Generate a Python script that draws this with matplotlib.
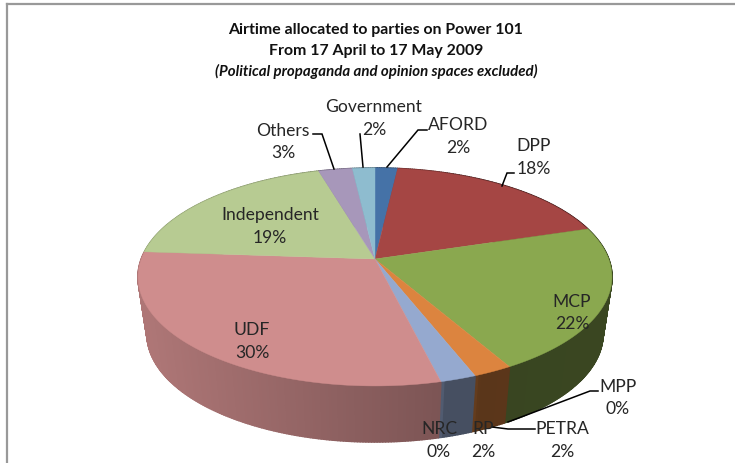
import numpy as np
import matplotlib
matplotlib.use("Agg")
import matplotlib.pyplot as plt
from matplotlib.collections import PolyCollection
from matplotlib.patches import Polygon

parties = ["AFORD", "DPP", "MCP", "MPP", "PETRA", "RP", "NRC", "UDF", "Independent", "Others", "Government"]
shares = [1.8, 18.4, 21.6, 0.0, 2.3, 2.1, 0.0, 29.9, 19.4, 2.7, 1.8]
colors = ["#4572a7", "#a54644", "#8aa84f", "#7d5fa0", "#dc843f", "#95a9cf", "#3d96ae",
          "#cf8d8d", "#b7cb92", "#a797ba", "#8ebccf"]

plt.rcParams["font.family"] = ["Lato", "DejaVu Sans"]

# label centres in pixels (name line, percent line)
label_pos = {
    "AFORD": (458, 125, 148), "DPP": (534, 146, 169), "MCP": (572, 302, 324),
    "MPP": (618, 387, 409), "PETRA": (562, 429, 452), "RP": (483, 429, 452),
    "NRC": (439, 429, 452), "UDF": (252, 330, 353), "Independent": (270, 215, 238),
    "Others": (283, 131, 153), "Government": (374, 107, 130),
}
leaders = {
    "AFORD": [(427, 131), (418, 131), (387, 168)],
    "DPP": [(514, 174), (507, 174), (502, 187)],
    "MPP": [(598, 392), (590, 392), (508, 423)],
    "PETRA": [(535, 430), (508, 430), (492, 428)],
    "Others": [(313, 135), (322, 135), (334, 170)],
    "Government": [(360, 135), (363, 168)],
}


def top_face(theta):
    # circle seen in perspective, theta clockwise from 12 o'clock
    u, v = np.sin(theta), np.cos(theta)
    w = 1 + 0.165 * v
    return 375 + 233.7 * u / w, (260 - 63.1 * v) / w


def bottom_face(x, y):
    return 375 + (x - 375) * 228 / 237, 335 + (y - 278) * 108 / 109


def shade(x):
    return np.interp(x, [145, 440, 445, 475, 480, 610], [0.84, 0.6, 0.47, 0.47, 0.41, 0.42])


fig = plt.figure(figsize=(7.35, 4.64), dpi=100)
ax = fig.add_axes([0, 0, 1, 1])
ax.set_xlim(0, 735)
ax.set_ylim(464, 0)
ax.axis("off")

edges = np.cumsum([0] + shares) / sum(shares) * 2 * np.pi

# side wall first, the top face covers the back of it
quads, quad_colors = [], []
for i, c in enumerate(colors):
    if shares[i] == 0:
        continue
    n = max(2, int(shares[i] * 6))
    th = np.linspace(edges[i], edges[i + 1], n + 1)
    x, y = top_face(th)
    bx, by = bottom_face(x, y)
    rgb = np.array(matplotlib.colors.to_rgb(c))
    for j in range(n):
        quads.append([(x[j], y[j]), (x[j + 1], y[j + 1]), (bx[j + 1], by[j + 1]), (bx[j], by[j])])
        quad_colors.append(rgb * shade((x[j] + x[j + 1]) / 2))
ax.add_collection(PolyCollection(quads, facecolors=quad_colors, edgecolors=quad_colors, linewidths=1.2, zorder=1))

for i, c in enumerate(colors):
    if shares[i] == 0:
        continue
    th = np.linspace(edges[i], edges[i + 1], max(3, int(shares[i] * 8)))
    x, y = top_face(th)
    pts = [(375, 260)] + list(zip(x, y))
    ax.add_patch(Polygon(pts, closed=True, facecolor=c, edgecolor=c, linewidth=0.3, zorder=2))

for name, pts in leaders.items():
    ax.plot([p[0] for p in pts], [p[1] for p in pts], color="black", lw=1.1, zorder=3, solid_joinstyle="miter")

for name, share in zip(parties, shares):
    cx, y1, y2 = label_pos[name]
    ax.text(cx, y1, name, ha="center", va="center", fontsize=12.6, color="#262626", zorder=4)
    ax.text(cx, y2, f"{share:.0f}%", ha="center", va="center", fontsize=12.6, color="#262626", zorder=4)

ax.text(376, 30, "Airtime allocated to parties on Power 101", ha="center", va="center", fontsize=11.4, fontweight="bold", color="#111111")
ax.text(376, 51, "From 17 April to 17 May 2009", ha="center", va="center", fontsize=11.4, fontweight="bold", color="#111111")
ax.text(376, 71, "(Political propaganda and opinion spaces excluded)", ha="center", va="center", fontsize=10.8, fontweight="bold", style="italic", color="#111111")

# frame of the pasted chart, only top and left show
ax.plot([7, 735], [4.5, 4.5], color="#999999", lw=1.6, zorder=5)
ax.plot([7, 7], [4.5, 464], color="#999999", lw=1.6, zorder=5)

fig.savefig("out.png", dpi=100)
